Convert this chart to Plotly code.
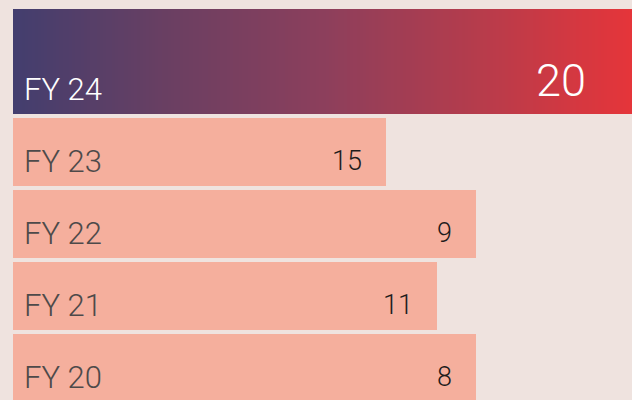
import numpy as np
import plotly.graph_objects as go

# Fiscal years, newest first (the newest row is the highlighted one)
years = ["FY 24", "FY 23", "FY 22", "FY 21", "FY 20"]
# Figures printed at the end of each bar
counts = [20, 15, 9, 11, 8]
# Bar extent on the 0-100 index axis
bar_index = [100, 60.3, 74.8, 68.5, 74.8]

BG = "#efe3df"
SALMON = "#f5af9d"
GRAD = [[0.0, "#433e6e"], [0.25, "#6a3f62"], [0.5, "#8c3f5c"],
        [0.75, "#b53c4c"], [1.0, "#e5353a"]]
FONT = "Roboto"

H = 400
Y_SPAN = 400 / 72          # visible rows, in row units
PX = H / Y_SPAN            # pixels per row unit

# Row layout in row units: one unit per normal row, the featured row is taller
top_pad = 9 / 72
feat_thick = 105 / 72
thick = 68 / 72
gap = 4 / 72

centers, widths = [], []
pos = top_pad
for i, _ in enumerate(years):
    w = feat_thick if i == 0 else thick
    centers.append(pos + w / 2)
    widths.append(w)
    pos += w + gap

fig = go.Figure()

# Regular rows
fig.add_trace(go.Bar(
    x=bar_index[1:], y=centers[1:], width=widths[1:], orientation="h",
    marker=dict(color=SALMON, line=dict(width=0)),
    hoverinfo="skip", showlegend=False,
))

# Featured row: a horizontal colour gradient over the bar's extent
n = 200
gx = np.linspace(0, bar_index[0], n + 1)
y0 = centers[0] - widths[0] / 2
y1 = centers[0] + widths[0] / 2
fig.add_trace(go.Heatmap(
    x=gx, y=[y0, y1], z=[np.linspace(0, 1, n).tolist()],
    colorscale=GRAD, zmin=0, zmax=1, showscale=False, hoverinfo="skip",
))

annotations = []
for i, (yr, c, L) in enumerate(zip(years, counts, bar_index)):
    half_px = widths[i] / 2 * PX   # distance from the row centre to its bottom edge
    feat = i == 0
    annotations.append(dict(
        x=0, y=centers[i], xref="x", yref="y", text=yr, showarrow=False,
        xanchor="left", yanchor="bottom", xshift=9, yshift=-half_px + 4,
        font=dict(family=FONT, size=31, weight=300,
                  color="#ffffff" if feat else "#4d4a4a"),
    ))
    annotations.append(dict(
        x=L, y=centers[i], xref="x", yref="y", text=str(c), showarrow=False,
        xanchor="right", yanchor="bottom",
        xshift=-44 if feat else -22, yshift=-half_px + (5 if feat else 7),
        font=dict(family=FONT, size=45 if feat else 27, weight=300,
                  color="#ffffff" if feat else "#1e1c1c"),
    ))

fig.update_layout(
    width=632, height=H,
    margin=dict(l=13, r=0, t=0, b=0),
    paper_bgcolor=BG, plot_bgcolor=BG,
    xaxis=dict(range=[0, 100], visible=False, fixedrange=True),
    yaxis=dict(range=[Y_SPAN, 0], visible=False, fixedrange=True),
    annotations=annotations,
    bargap=0,
)

fig.write_html("out.html", config={"displayModeBar": False})
